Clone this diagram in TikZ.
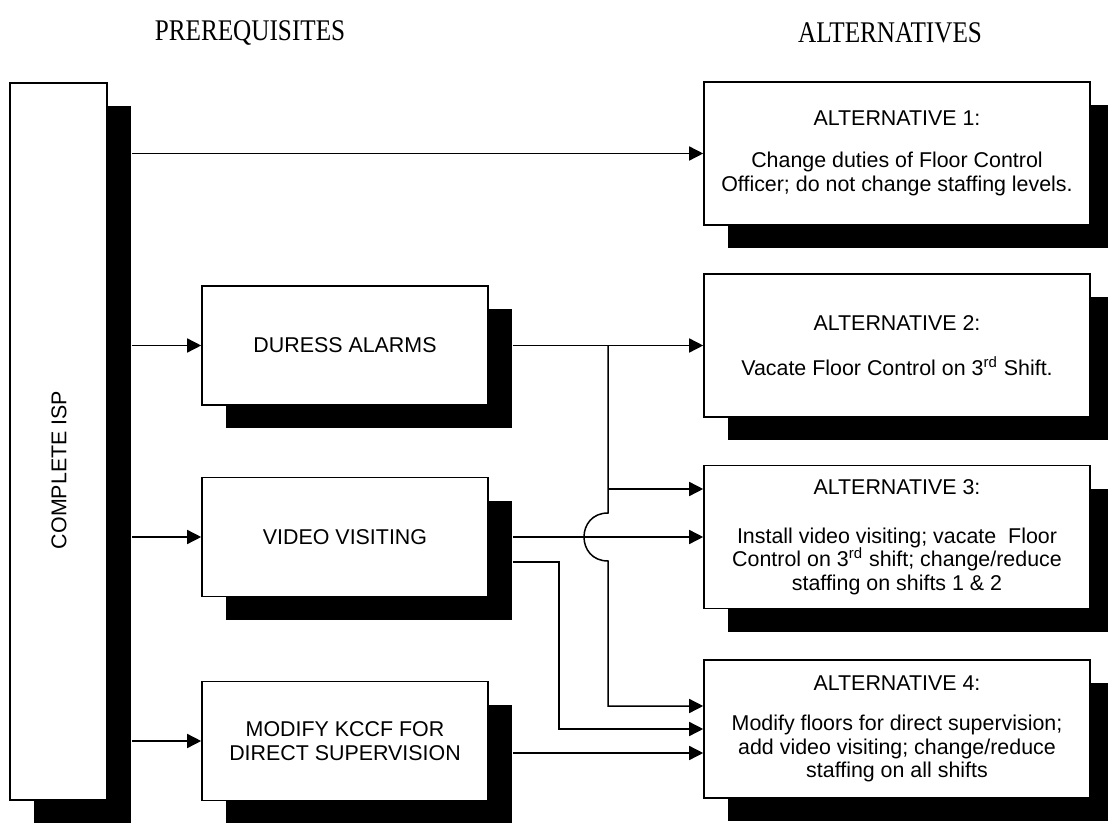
\documentclass[tikz,border=0pt]{standalone}
\usepackage{fontspec}
\setmainfont{Liberation Serif}
\setsansfont{Liberation Sans}
\newfontfamily\headfont[FakeStretch=0.84]{Liberation Serif}
\usetikzlibrary{arrows.meta,shadows,calc}

\tikzset{
	boxfont/.style={font=\sffamily\fontsize{10.7}{11.7}\selectfont},
	box/.style={draw, line width=0.8pt, fill=white, boxfont, align=center,
		general shadow={fill=black, shadow xshift=12pt, shadow yshift=-11.5pt}},
	prebox/.style={box, minimum width=143pt, minimum height=59.5pt},
	altbox/.style={box, minimum width=193pt, minimum height=71.5pt},
	arr/.style={line width=0.75pt, -{Triangle[length=7pt,width=7pt]}},
	heading/.style={font=\headfont\fontsize{15}{17}\selectfont}
}

\begin{document}
\begin{tikzpicture}[x=0.5pt, y=-0.5pt]
	
	\path[use as bounding box, clip] (0,0) rectangle (1108,823);
	
	% headings
	\node[heading] (pre) at (250,33) {PREREQUISITES};
	\node[heading] (alts) at (890,33) {ALTERNATIVES};
	
	% left column
	\node[box, minimum width=48.5pt, minimum height=358.5pt] (isp) at (58.5,441.5) {};
	\node[boxfont, rotate=90] (isptext) at (59,470) {COMPLETE ISP};
	
	\node[prebox] (duress) at (345,345.5) {DURESS ALARMS};
	\node[prebox] (video) at (345,537) {VIDEO VISITING};
	\node[prebox] (modify) at (345,741) {MODIFY KCCF FOR\\DIRECT SUPERVISION};
	
	% right column
	\node[altbox] (alt1) at (897,153.5) {ALTERNATIVE 1:\\[9.3pt]Change duties of Floor Control\\Officer; do not change staffing levels.};
	\node[altbox] (alt2) at (897,345.5) {ALTERNATIVE 2:\\[10.8pt]Vacate Floor Control on 3\textsuperscript{rd} Shift.};
	\node[altbox] (alt3) at (897,537) {ALTERNATIVE 3:\\[12.8pt]Install video visiting; vacate\ \ Floor\\Control on 3\textsuperscript{rd} shift; change/reduce\\staffing on shifts 1 \& 2};
	\node[altbox, minimum height=69pt] (alt4) at (897,729) {ALTERNATIVE 4:\\[8.3pt]Modify floors for direct supervision;\\add video visiting; change/reduce\\staffing on all shifts};
	
	% shadow edges and junctions
	\coordinate (ispr) at ([xshift=12pt]isp.east);
	\coordinate (duressr) at ([xshift=12pt]duress.east);
	\coordinate (videor) at ([xshift=12pt]video.east);
	\coordinate (modifyr) at ([xshift=12pt]modify.east);
	\coordinate (branch) at (608,345.5);
	\coordinate (jog) at (559,0);
	\coordinate (vlow) at ($(videor)+(0,-12.5pt)$);
	\coordinate (a3hi) at ($(alt3.west)+(0,24pt)$);
	\coordinate (a4hi) at ($(alt4.west)+(0,11.5pt)$);
	\coordinate (a4lo) at ($(alt4.west)+(0,-12pt)$);
	
	% from complete isp
	\draw[arr] (ispr |- alt1.west) -- (alt1.west);
	\draw[arr] (ispr |- duress.west) -- (duress.west);
	\draw[arr] (ispr |- video.west) -- (video.west);
	\draw[arr] (ispr |- modify.west) -- (modify.west);
	
	% from prerequisites
	\draw[arr] (duressr) -- (alt2.west);
	\draw[arr] (branch |- a3hi) -- (a3hi);
	\draw[arr] (branch) -- (608,513) .. controls (576,513) and (576,561) .. (608,561) -- (branch |- a4hi) -- (a4hi);
	\draw[arr] (videor) -- (alt3.west);
	\draw[arr] (vlow) -| (jog |- alt4.west) -- (alt4.west);
	\draw[arr] (modifyr |- a4lo) -- (a4lo);
	
\end{tikzpicture}
\end{document}
